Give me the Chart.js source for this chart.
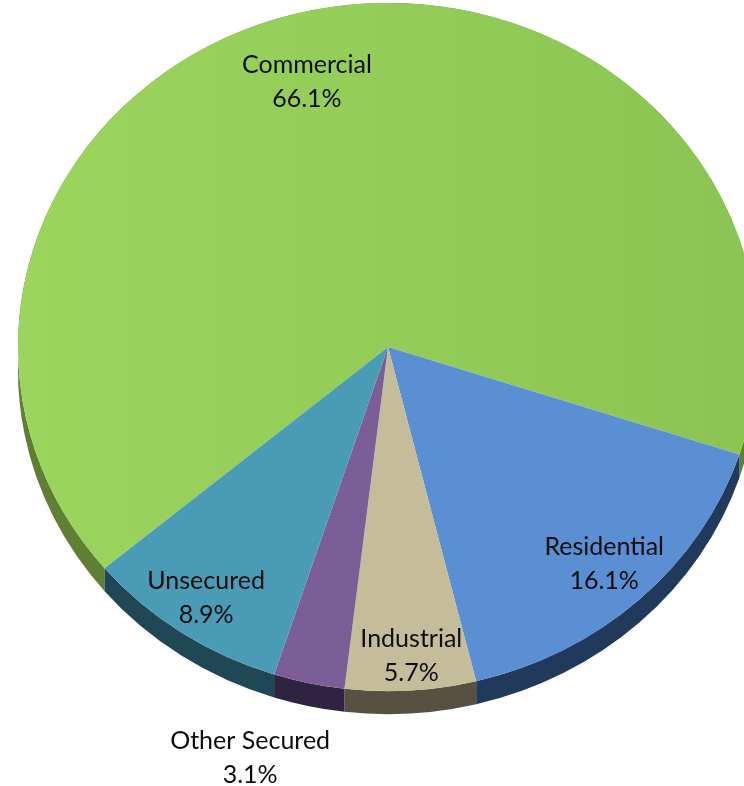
<!DOCTYPE html>
<html>
<head>
<meta charset="utf-8">
<script src="https://cdn.jsdelivr.net/npm/chart.js@4.4.0/dist/chart.umd.min.js"></script>
<style>
    html, body { margin: 0; padding: 0; background: #fff; overflow: hidden; width: 744px; height: 786px; }
    #wrap { position: absolute; left: 0; top: 0; width: 780px; height: 786px; }
</style>
</head>
<body>
<div id="wrap"><canvas id="pie" width="780" height="786"></canvas></div>
<script>
    // chart data
    const categories = ['Commercial', 'Residential', 'Industrial', 'Other Secured', 'Unsecured'];
    const shares = [66.1, 16.1, 5.7, 3.1, 8.9];
    const shareLabels = ['66.1%', '16.1%', '5.7%', '3.1%', '8.9%'];

    const topColors = ['#94cd58', '#5a8fd3', '#c5bd99', '#7b5e96', '#4a9cb6'];
    const sideColors = ['#5f7f33', '#21395a', '#565140', '#2e2340', '#1f4756'];

    // fake 3d look: squash vertically + side band
    const CENTER_Y = 347;
    const SQUASH = 0.93;
    const DEPTH = 23;
    // label placement: fraction of radius, angle nudge (deg)
    const labelPos = [[0.80, -5], [0.86, 0], [0.90, -0.5], [1.25, 5], [0.88, 0]];

    const tilt = {
        id: 'tilt',
        beforeDatasetsDraw(chart) {
            const ctx = chart.ctx;
            const arcs = chart.getDatasetMeta(0).data;
            const cy = arcs[0].y;
            ctx.save();
            ctx.translate(0, CENTER_Y);
            ctx.scale(1, SQUASH);
            ctx.translate(0, -cy);
            const dd = DEPTH / SQUASH;
            arcs.forEach((arc, i) => {
                ctx.fillStyle = sideColors[i];
                ctx.beginPath();
                ctx.arc(arc.x, arc.y, arc.outerRadius, arc.startAngle, arc.endAngle);
                ctx.arc(arc.x, arc.y + dd, arc.outerRadius, arc.endAngle, arc.startAngle, true);
                ctx.closePath();
                ctx.fill();
            });
        },
        afterDatasetsDraw(chart) {
            chart.ctx.restore();
        },
        afterDraw(chart) {
            const ctx = chart.ctx;
            const arcs = chart.getDatasetMeta(0).data;
            ctx.save();
            ctx.fillStyle = '#0d0d0d';
            ctx.font = '25px Lato';
            ctx.textAlign = 'center';
            ctx.textBaseline = 'middle';
            arcs.forEach((arc, i) => {
                const [k, shift] = labelPos[i];
                const mid = (arc.startAngle + arc.endAngle) / 2 + shift * Math.PI / 180;
                const x = arc.x + Math.cos(mid) * arc.outerRadius * k;
                const y = CENTER_Y + Math.sin(mid) * arc.outerRadius * k * SQUASH;
                ctx.fillText(categories[i], x, y - 17);
                ctx.fillText(shareLabels[i], x, y + 17);
            });
            ctx.restore();
        }
    };

    new Chart(document.getElementById('pie'), {
        type: 'pie',
        data: {
            labels: categories,
            datasets: [{
                data: shares,
                backgroundColor: (c) => {
                    if (c.dataIndex === 0 && c.chart.ctx) {
                        const g = c.chart.ctx.createLinearGradient(18, 0, 758, 0);
                        g.addColorStop(0, '#9bd55e');
                        g.addColorStop(1, '#8bc452');
                        return g;
                    }
                    return topColors[c.dataIndex];
                },
                borderWidth: 0,
                clip: false
            }]
        },
        options: {
            responsive: false,
            animation: false,
            devicePixelRatio: 1,
            rotation: 230,
            layout: { padding: { left: 18, right: 22, top: 0, bottom: 46 } },
            plugins: {
                legend: { display: false },
                tooltip: { enabled: false }
            }
        },
        plugins: [tilt]
    });
</script>
</body>
</html>
